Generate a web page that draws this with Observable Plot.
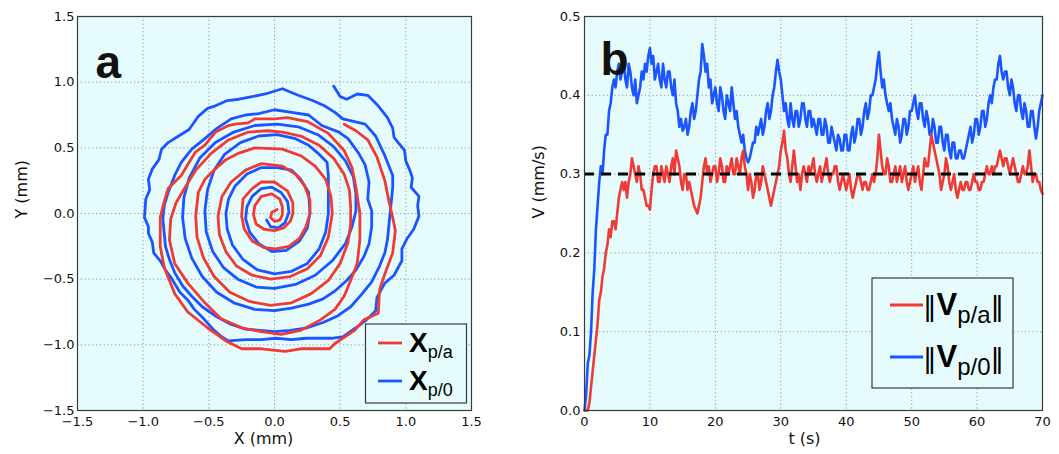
<!DOCTYPE html>
<html><head><meta charset="utf-8">
<script src="https://cdn.jsdelivr.net/npm/d3@7"></script>
<script src="https://cdn.jsdelivr.net/npm/@observablehq/plot@0.6"></script>
<style>
body{margin:0;background:#fff;}
#wrap{position:relative;width:1059px;height:454px;overflow:hidden;}
#a,#b{position:absolute;top:0;}
#a{left:0;} #b{left:530px;}
</style></head><body><div id="wrap"><div id="a"></div><div id="b"></div></div>
<script>
// ---------- data ----------
const posTicks = [-1.5, -1.0, -0.5, 0.0, 0.5, 1.0, 1.5];
const tTicks = [0, 10, 20, 30, 40, 50, 60, 70];
const vTicks = [0.0, 0.1, 0.2, 0.3, 0.4, 0.5];
const refLevel = 0.3;

// X_p/0 trajectory (blue), from centre outward
const bluePath = [
[-0.06,-0.05],[-0.03,-0.10],[0.03,-0.11],[0.08,-0.07],[0.11,0.01],[0.10,0.09],[0.05,0.16],[-0.02,0.20],[-0.10,0.19],[-0.17,0.13],[-0.21,0.05],[-0.22,-0.04],[-0.19,-0.14],[-0.12,-0.23],[-0.02,-0.29],[0.09,-0.28],[0.19,-0.21],[0.25,-0.11],[0.27,0.00],
[0.26,0.16],[0.20,0.26],[0.13,0.33],[0.02,0.35],[-0.10,0.35],[-0.21,0.30],[-0.30,0.21],[-0.35,0.11],[-0.37,0.00],[-0.36,-0.12],[-0.32,-0.24],[-0.24,-0.35],[-0.13,-0.43],[0.00,-0.46],[0.13,-0.44],[0.25,-0.38],[0.34,-0.27],[0.39,-0.14],[0.41,0.00],
[0.41,0.16],[0.41,0.29],[0.40,0.39],[0.33,0.46],[0.26,0.52],[0.16,0.57],[0.02,0.60],[-0.12,0.59],[-0.26,0.54],[-0.38,0.45],[-0.46,0.33],[-0.51,0.18],[-0.53,0.02],[-0.52,-0.14],[-0.47,-0.29],[-0.39,-0.41],[-0.28,-0.50],[-0.14,-0.56],[0.00,-0.57],[0.16,-0.54],[0.31,-0.47],[0.44,-0.36],[0.54,-0.23],[0.59,-0.10],[0.62,0.02],
[0.62,0.15],[0.60,0.28],[0.54,0.40],[0.45,0.51],[0.33,0.60],[0.18,0.66],[0.02,0.68],[-0.15,0.67],[-0.31,0.62],[-0.45,0.54],[-0.57,0.42],[-0.65,0.27],[-0.69,0.12],[-0.70,-0.03],[-0.68,-0.19],[-0.63,-0.34],[-0.55,-0.48],[-0.44,-0.60],[-0.31,-0.68],[-0.15,-0.73],[0.00,-0.74],[0.13,-0.72],[0.26,-0.69],[0.37,-0.65],[0.46,-0.59],[0.55,-0.51],[0.62,-0.43],[0.68,-0.33],[0.72,-0.23],[0.74,-0.10],[0.74,0.02],
[0.71,0.11],[0.72,0.24],[0.69,0.37],[0.64,0.46],[0.56,0.57],[0.49,0.62],[0.36,0.67],[0.26,0.75],[0.13,0.77],[0.00,0.79],[-0.12,0.76],[-0.22,0.75],[-0.33,0.72],[-0.45,0.64],[-0.53,0.57],[-0.63,0.49],[-0.71,0.39],[-0.76,0.29],[-0.81,0.16],[-0.84,0.06],[-0.85,-0.04],[-0.84,-0.15],[-0.83,-0.25],[-0.80,-0.35],[-0.76,-0.45],[-0.70,-0.55],[-0.63,-0.63],[-0.55,-0.71],[-0.45,-0.78],[-0.34,-0.84],[-0.22,-0.88],[-0.11,-0.89],[0.00,-0.90],[0.12,-0.89],[0.25,-0.87],[0.37,-0.83],[0.48,-0.78],[0.58,-0.71],[0.66,-0.62],[0.74,-0.52],[0.80,-0.40],[0.84,-0.30],[0.86,-0.20],[0.87,-0.10],[0.88,0.00],[0.89,0.10],[0.90,0.20],
[0.90,0.29],[0.84,0.44],[0.77,0.59],[0.69,0.68],[0.52,0.72],[0.46,0.77],[0.38,0.82],[0.29,0.86],[0.18,0.90],[0.06,0.95],[-0.07,0.91],[-0.17,0.89],[-0.27,0.87],[-0.36,0.86],[-0.45,0.82],[-0.51,0.80],[-0.58,0.74],[-0.65,0.64],[-0.73,0.59],[-0.81,0.54],[-0.86,0.49],[-0.88,0.41],[-0.93,0.34],[-0.96,0.26],[-0.95,0.18],[-0.98,0.11],[-0.99,-0.03],[-0.96,-0.10],[-0.96,-0.15],[-0.93,-0.22],[-0.92,-0.30],[-0.87,-0.36],[-0.83,-0.43],[-0.78,-0.50],[-0.72,-0.60],[-0.66,-0.66],[-0.61,-0.73],[-0.54,-0.80],[-0.46,-0.89],[-0.40,-0.94],[-0.35,-0.97],[-0.22,-0.96],[-0.10,-0.96],[0.01,-0.95],[0.13,-0.96],[0.24,-0.95],[0.34,-0.95],[0.43,-0.95],[0.52,-0.94],[0.62,-0.87],[0.70,-0.81],[0.77,-0.74],[0.78,-0.64],[0.84,-0.53],[0.91,-0.47],[0.97,-0.36],[0.97,-0.27],[1.01,-0.19],[1.06,-0.12],[1.10,-0.02],[1.09,0.06],[1.10,0.13],[1.04,0.20],[1.05,0.27],[1.03,0.33],[1.00,0.40],[0.99,0.48],[0.91,0.58],[0.90,0.65],[0.86,0.73],[0.78,0.83],[0.71,0.90],[0.63,0.91],[0.55,0.87],[0.50,0.89],[0.45,0.97]
];

// X_p/a trajectory (red), from centre outward
const redPath = [
[0.02,0.03],[-0.02,0.01],[-0.03,-0.03],[0.00,-0.06],[0.04,-0.05],[0.06,-0.01],
[0.06,0.05],[0.04,0.11],[-0.02,0.15],[-0.10,0.13],[-0.15,0.06],[-0.16,-0.01],[-0.14,-0.08],[-0.08,-0.12],[0.00,-0.13],[0.07,-0.11],[0.12,-0.06],[0.14,0.00],
[0.14,0.08],[0.10,0.17],[0.00,0.24],[-0.10,0.24],[-0.17,0.19],[-0.24,0.11],[-0.25,-0.02],[-0.23,-0.12],[-0.17,-0.21],[-0.08,-0.26],[0.01,-0.27],[0.11,-0.25],[0.19,-0.19],[0.24,-0.10],[0.27,0.00],
[0.27,0.10],[0.23,0.21],[0.16,0.30],[0.06,0.36],[-0.10,0.38],[-0.22,0.33],[-0.33,0.24],[-0.40,0.13],[-0.43,-0.02],[-0.42,-0.16],[-0.37,-0.29],[-0.29,-0.40],[-0.17,-0.47],[-0.03,-0.50],[0.12,-0.48],[0.25,-0.42],[0.35,-0.32],[0.41,-0.18],[0.44,0.00],
[0.43,0.13],[0.39,0.26],[0.31,0.36],[0.20,0.44],[0.06,0.49],[-0.15,0.50],[-0.27,0.46],[-0.37,0.41],[-0.45,0.34],[-0.53,0.26],[-0.58,0.16],[-0.60,-0.02],[-0.59,-0.18],[-0.54,-0.34],[-0.46,-0.48],[-0.34,-0.60],[-0.19,-0.67],[-0.03,-0.70],[0.13,-0.68],[0.28,-0.61],[0.41,-0.51],[0.50,-0.38],[0.56,-0.22],[0.58,-0.08],[0.58,0.05],
[0.57,0.18],[0.53,0.30],[0.45,0.42],[0.34,0.52],[0.20,0.59],[0.06,0.62],[-0.05,0.63],[-0.20,0.62],[-0.35,0.56],[-0.48,0.46],[-0.60,0.33],[-0.68,0.20],[-0.75,0.08],[-0.79,-0.04],[-0.80,-0.20],[-0.76,-0.38],[-0.66,-0.53],[-0.53,-0.68],[-0.41,-0.80],[-0.25,-0.87],[-0.10,-0.90],[0.05,-0.92],[0.20,-0.89],[0.35,-0.81],[0.46,-0.73],[0.53,-0.63],[0.58,-0.51],[0.63,-0.38],[0.65,-0.20],[0.65,0.00],
[0.62,0.20],[0.59,0.35],[0.53,0.48],[0.41,0.61],[0.25,0.70],[0.10,0.73],[0.00,0.72],[-0.15,0.72],[-0.20,0.69],[-0.30,0.68],[-0.35,0.67],[-0.43,0.63],[-0.45,0.62],[-0.53,0.52],[-0.60,0.47],[-0.65,0.39],[-0.71,0.29],[-0.76,0.24],[-0.81,0.19],[-0.84,0.09],[-0.87,-0.03],[-0.87,-0.25],[-0.84,-0.41],[-0.76,-0.61],[-0.66,-0.75],[-0.51,-0.87],[-0.37,-0.97],[-0.25,-1.03],[-0.10,-1.03],[0.08,-1.05],[0.20,-1.03],[0.42,-1.03],[0.46,-0.99],[0.61,-0.89],[0.68,-0.81],[0.79,-0.76],[0.80,-0.58],[0.84,-0.46],[0.90,-0.30],[0.92,-0.13],[0.90,-0.03],[0.87,0.10],[0.84,0.25],[0.78,0.43],[0.71,0.56],[0.62,0.63],[0.53,0.68]
];

// speeds sampled every 0.25 s from t = 0 to 70 s (one row = 2.5 s)
const tStep = 0.25;
const speedBlue = [
0.00,0.02,0.06,0.07,0.10,0.15,0.18,0.23,0.26,0.29,
0.31,0.30,0.33,0.35,0.35,0.38,0.39,0.41,0.42,0.41,
0.43,0.44,0.42,0.43,0.44,0.42,0.41,0.44,0.43,0.41,
0.40,0.42,0.39,0.40,0.41,0.43,0.42,0.44,0.43,0.45,
0.46,0.44,0.45,0.42,0.43,0.44,0.42,0.41,0.44,0.42,
0.41,0.43,0.43,0.41,0.40,0.42,0.39,0.38,0.36,0.37,
0.355,0.36,0.37,0.35,0.36,0.38,0.39,0.37,0.38,0.40,
0.42,0.43,0.465,0.45,0.43,0.44,0.41,0.42,0.39,0.40,
0.41,0.39,0.38,0.41,0.40,0.38,0.37,0.40,0.39,0.38,
0.41,0.39,0.37,0.38,0.36,0.35,0.34,0.35,0.33,0.32,
0.315,0.32,0.33,0.34,0.34,0.36,0.35,0.36,0.37,0.35,
0.36,0.38,0.39,0.37,0.38,0.40,0.41,0.43,0.445,0.43,
0.42,0.40,0.38,0.39,0.37,0.36,0.39,0.37,0.36,0.38,
0.38,0.36,0.37,0.39,0.39,0.37,0.36,0.38,0.38,0.36,
0.37,0.36,0.35,0.37,0.37,0.35,0.35,0.37,0.36,0.34,
0.34,0.36,0.35,0.34,0.33,0.35,0.345,0.33,0.33,0.35,
0.35,0.33,0.33,0.35,0.36,0.34,0.35,0.37,0.37,0.35,
0.36,0.38,0.39,0.37,0.38,0.40,0.40,0.41,0.42,0.44,
0.455,0.43,0.41,0.42,0.40,0.39,0.38,0.39,0.37,0.36,
0.35,0.37,0.36,0.34,0.35,0.37,0.37,0.35,0.36,0.38,
0.38,0.39,0.40,0.38,0.37,0.39,0.39,0.37,0.36,0.38,
0.37,0.35,0.35,0.37,0.36,0.34,0.34,0.36,0.36,0.34,
0.33,0.35,0.35,0.33,0.32,0.34,0.34,0.32,0.32,0.33,
0.33,0.32,0.32,0.33,0.34,0.35,0.36,0.34,0.35,0.37,
0.37,0.35,0.36,0.38,0.38,0.36,0.37,0.39,0.40,0.39,
0.41,0.42,0.42,0.44,0.45,0.43,0.42,0.43,0.43,0.41,
0.40,0.42,0.41,0.39,0.38,0.40,0.40,0.38,0.37,0.39,
0.38,0.36,0.36,0.38,0.38,0.36,0.345,0.36,0.38,0.39,
0.40
];
const speedRed = [
0.00,0.00,0.00,0.01,0.03,0.05,0.07,0.09,0.11,0.14,
0.15,0.17,0.18,0.20,0.21,0.23,0.22,0.24,0.24,0.23,
0.25,0.27,0.28,0.29,0.28,0.29,0.27,0.29,0.30,0.32,
0.31,0.30,0.29,0.31,0.30,0.28,0.28,0.27,0.26,0.26,
0.255,0.28,0.30,0.31,0.31,0.29,0.29,0.31,0.30,0.29,
0.31,0.30,0.29,0.31,0.32,0.30,0.33,0.32,0.31,0.29,
0.28,0.30,0.30,0.28,0.29,0.28,0.27,0.26,0.255,0.25,
0.26,0.27,0.29,0.31,0.32,0.30,0.31,0.29,0.30,0.31,
0.31,0.29,0.30,0.32,0.31,0.29,0.29,0.31,0.30,0.31,
0.32,0.30,0.30,0.32,0.31,0.30,0.32,0.33,0.31,0.30,
0.28,0.30,0.29,0.27,0.28,0.30,0.30,0.28,0.29,0.31,
0.30,0.29,0.28,0.27,0.26,0.27,0.28,0.29,0.30,0.31,
0.33,0.34,0.355,0.33,0.32,0.30,0.29,0.31,0.33,0.31,
0.29,0.30,0.28,0.30,0.31,0.30,0.29,0.31,0.30,0.31,
0.32,0.30,0.29,0.30,0.31,0.29,0.30,0.31,0.32,0.30,
0.29,0.30,0.30,0.31,0.31,0.29,0.28,0.29,0.30,0.29,
0.28,0.29,0.30,0.28,0.27,0.28,0.29,0.30,0.30,0.29,
0.28,0.29,0.29,0.28,0.28,0.29,0.30,0.29,0.30,0.32,
0.35,0.33,0.31,0.30,0.30,0.32,0.31,0.29,0.29,0.30,
0.31,0.29,0.30,0.31,0.29,0.30,0.31,0.29,0.28,0.29,
0.30,0.31,0.29,0.30,0.31,0.29,0.28,0.30,0.32,0.31,
0.31,0.33,0.35,0.34,0.33,0.32,0.31,0.30,0.28,0.29,
0.30,0.32,0.31,0.29,0.28,0.29,0.30,0.28,0.27,0.28,
0.29,0.28,0.28,0.29,0.29,0.28,0.28,0.29,0.30,0.29,
0.29,0.28,0.28,0.29,0.29,0.30,0.31,0.30,0.30,0.31,
0.30,0.31,0.31,0.32,0.33,0.32,0.31,0.32,0.32,0.31,
0.30,0.31,0.32,0.31,0.30,0.29,0.29,0.30,0.31,0.30,
0.30,0.31,0.33,0.31,0.29,0.30,0.30,0.29,0.29,0.28,
0.275
];

// ---------- style ----------
const BG = "#e6fcfc";
const BLUE = "#1a55ff";
const RED = "#f03a35";
const GRID = "#7f8eaa";
const FRAME = "#3a3a3a";
const fmt1 = d => d.toFixed(1).replace("-", "\u2212");
const gridOpts = {stroke: GRID, strokeOpacity: 0.9, strokeWidth: 1, strokeDasharray: "1.2,2.6"};
const baseStyle = {background: "transparent", fontFamily: "DejaVu Sans, sans-serif", fontSize: "13px", color: "#111", overflow: "visible"};

// ---------- panel a ----------
const left = Plot.plot({
  width: 530, height: 454,
  marginLeft: 77, marginRight: 59, marginTop: 16, marginBottom: 44,
  style: baseStyle,
  x: {domain: [-1.5, 1.5]},
  y: {domain: [-1.5, 1.5]},
  marks: [
    Plot.frame({fill: BG}),
    Plot.gridX(posTicks, gridOpts),
    Plot.gridY(posTicks, gridOpts),
    Plot.line(bluePath, {x: d => d[0], y: d => d[1], stroke: BLUE, strokeWidth: 2.8, strokeLinejoin: "round"}),
    Plot.line(redPath, {x: d => d[0], y: d => d[1], stroke: RED, strokeWidth: 2.8, strokeLinejoin: "round"}),
    Plot.frame({stroke: FRAME, strokeWidth: 1.2}),
    Plot.axisX(posTicks, {tickSize: 0, tickPadding: 6, tickFormat: fmt1, label: null, fontSize: 13}),
    Plot.axisY(posTicks, {tickSize: 0, tickPadding: 3, tickFormat: fmt1, label: null, fontSize: 13}),
    Plot.text(["X (mm)"], {frameAnchor: "bottom", text: d => d, dy: 33, dx: -11, fontSize: 16}),
    Plot.text(["Y (mm)"], {frameAnchor: "left", text: d => d, rotate: -90, dx: -56, dy: 5, fontSize: 16}),
    Plot.text(["a"], {frameAnchor: "top-left", text: d => d, dx: 18, dy: 29, fontSize: 46, fontWeight: "bold", fontFamily: "Liberation Sans, Arial, sans-serif", textAnchor: "start"})
  ]
});

// ---------- panel b ----------
const rows = arr => arr.map((v, i) => ({t: i * tStep, v}));
const right = Plot.plot({
  width: 529, height: 454,
  marginLeft: 54, marginRight: 17, marginTop: 16, marginBottom: 44,
  style: baseStyle,
  x: {domain: [0, 70]},
  y: {domain: [0, 0.5]},
  marks: [
    Plot.frame({fill: BG}),
    Plot.gridX(tTicks, gridOpts),
    Plot.gridY(vTicks, gridOpts),
    Plot.line(rows(speedBlue), {x: "t", y: "v", stroke: BLUE, strokeWidth: 2.6, strokeLinejoin: "round"}),
    Plot.line(rows(speedRed), {x: "t", y: "v", stroke: RED, strokeWidth: 2.6, strokeLinejoin: "round"}),
    Plot.ruleY([refLevel], {stroke: "#000", strokeWidth: 3, strokeDasharray: "10,7"}),
    Plot.frame({stroke: FRAME, strokeWidth: 1.2}),
    Plot.axisX(tTicks, {tickSize: 0, tickPadding: 6, tickFormat: d => String(d), label: null, fontSize: 13}),
    Plot.axisY(vTicks, {tickSize: 0, tickPadding: 4, tickFormat: fmt1, label: null, fontSize: 13}),
    Plot.text(["t (s)"], {frameAnchor: "bottom", text: d => d, dy: 33, dx: -9, fontSize: 16}),
    Plot.text(["V (mm/s)"], {frameAnchor: "left", text: d => d, rotate: -90, dx: -46, dy: 5, fontSize: 16}),
    Plot.text(["b"], {frameAnchor: "top-left", text: d => d, dx: 16, dy: 26, fontSize: 46, fontWeight: "bold", fontFamily: "Liberation Sans, Arial, sans-serif", textAnchor: "start"})
  ]
});

document.getElementById("a").appendChild(left);
document.getElementById("b").appendChild(right);

// ---------- legends ----------
function legendA(svg) {
  const g = d3.select(svg).append("g").attr("font-family", "Liberation Sans, Arial, sans-serif").attr("text-anchor", "start");
  g.append("rect").attr("x", 365.5).attr("y", 324).attr("width", 101).attr("height", 79)
    .attr("fill", BG).attr("stroke", FRAME).attr("stroke-width", 1.2);
  const items = [{c: RED, sub: "p/a", y: 343}, {c: BLUE, sub: "p/0", y: 381}];
  for (const it of items) {
    g.append("line").attr("x1", 378).attr("x2", 402).attr("y1", it.y).attr("y2", it.y)
      .attr("stroke", it.c).attr("stroke-width", 2.8);
    const t = g.append("text").attr("fill", "#000").attr("x", 409).attr("y", it.y + 9);
    t.append("tspan").attr("font-size", 28).attr("font-weight", "bold").text("X");
    t.append("tspan").attr("font-size", 18).attr("dy", 6).text(it.sub);
  }
}
function legendB(svg) {
  const g = d3.select(svg).append("g").attr("font-family", "Liberation Sans, Arial, sans-serif").attr("text-anchor", "start");
  g.append("rect").attr("x", 342).attr("y", 278).attr("width", 141).attr("height", 110)
    .attr("fill", BG).attr("stroke", FRAME).attr("stroke-width", 1.2);
  const items = [{c: RED, sub: "p/a", y: 305}, {c: BLUE, sub: "p/0", y: 357}];
  for (const it of items) {
    g.append("line").attr("x1", 360).attr("x2", 393).attr("y1", it.y).attr("y2", it.y)
      .attr("stroke", it.c).attr("stroke-width", 2.8);
    const t = g.append("text").attr("fill", "#000").attr("x", 393).attr("y", it.y + 10);
    t.append("tspan").attr("font-size", 27).attr("font-family", "DejaVu Sans").text("\u2016");
    t.append("tspan").attr("font-size", 31).attr("font-weight", "bold").text("V");
    t.append("tspan").attr("font-size", 24).attr("dy", 8).text(it.sub);
    t.append("tspan").attr("font-size", 27).attr("font-family", "DejaVu Sans").attr("dy", -8).text("\u2016");
  }
}
legendA(left);
legendB(right);
</script>
</body></html>
